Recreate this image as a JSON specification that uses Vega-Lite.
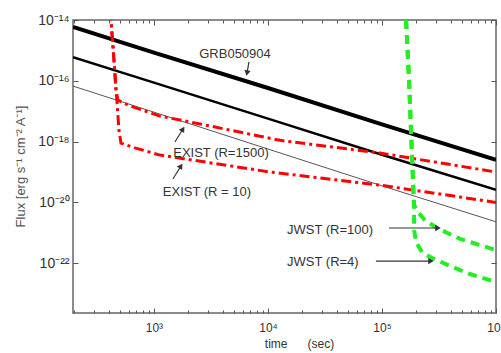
{
  "$schema": "https://vega.github.io/schema/vega-lite/v6.json",
  "width": 423,
  "height": 293,
  "autosize": {"type": "none"},
  "padding": {"left": 73, "top": 20, "right": 5, "bottom": 40},
  "background": "white",
  "config": {
    "view": {"stroke": "#666", "strokeWidth": 1.5},
    "font": "Liberation Sans",
    "axis": {"domain": false, "grid": false, "tickColor": "#555", "tickWidth": 1, "labelColor": "#333", "titleColor": "#333", "titleFontWeight": "normal", "labelFont": "Liberation Sans", "titleFont": "Liberation Sans"}
  },
  "datasets": {
    "curves": [
      {"s": "thick", "i": 1, "t": 195, "f": 5.9e-15},
      {"s": "thick", "i": 2, "t": 1000, "f": 8.5e-16},
      {"s": "thick", "i": 3, "t": 10000, "f": 5.8e-17},
      {"s": "thick", "i": 4, "t": 100000, "f": 3.7e-18},
      {"s": "thick", "i": 5, "t": 1000000, "f": 2.5e-19},
      {"s": "mid", "i": 1, "t": 195, "f": 6.0e-16},
      {"s": "mid", "i": 2, "t": 1000, "f": 8.7e-17},
      {"s": "mid", "i": 3, "t": 10000, "f": 5.7e-18},
      {"s": "mid", "i": 4, "t": 100000, "f": 3.7e-19},
      {"s": "mid", "i": 5, "t": 1000000, "f": 2.6e-20},
      {"s": "thin", "i": 1, "t": 195, "f": 6.7e-17},
      {"s": "thin", "i": 2, "t": 1000, "f": 9.3e-18},
      {"s": "thin", "i": 3, "t": 10000, "f": 5.7e-19},
      {"s": "thin", "i": 4, "t": 100000, "f": 3.5e-20},
      {"s": "thin", "i": 5, "t": 1000000, "f": 2.3e-21},
      {"s": "exist1500", "i": 1, "t": 395, "f": 1e-13},
      {"s": "exist1500", "i": 2, "t": 420, "f": 1e-14},
      {"s": "exist1500", "i": 3, "t": 446, "f": 4.8e-16},
      {"s": "exist1500", "i": 4, "t": 464, "f": 5.0e-17},
      {"s": "exist1500", "i": 5, "t": 483, "f": 2.3e-17},
      {"s": "exist1500", "i": 6, "t": 615, "f": 1.5e-17},
      {"s": "exist1500", "i": 7, "t": 1129, "f": 6.9e-18},
      {"s": "exist1500", "i": 8, "t": 2535, "f": 3.8e-18},
      {"s": "exist1500", "i": 9, "t": 12730, "f": 1.1e-18},
      {"s": "exist1500", "i": 10, "t": 95900, "f": 4.2e-19},
      {"s": "exist1500", "i": 11, "t": 1000000, "f": 1.0e-19},
      {"s": "exist10", "i": 1, "t": 395, "f": 1e-13},
      {"s": "exist10", "i": 2, "t": 420, "f": 1e-14},
      {"s": "exist10", "i": 3, "t": 446, "f": 4.8e-16},
      {"s": "exist10", "i": 4, "t": 473, "f": 2.3e-17},
      {"s": "exist10", "i": 5, "t": 493, "f": 2.4e-18},
      {"s": "exist10", "i": 6, "t": 514, "f": 8.9e-19},
      {"s": "exist10", "i": 7, "t": 681, "f": 6.2e-19},
      {"s": "exist10", "i": 8, "t": 1129, "f": 3.6e-19},
      {"s": "exist10", "i": 9, "t": 10420, "f": 1.0e-19},
      {"s": "exist10", "i": 10, "t": 95900, "f": 3.7e-20},
      {"s": "exist10", "i": 11, "t": 1000000, "f": 1.0e-20},
      {"s": "jwst100", "i": 1, "t": 162600, "f": 1e-14},
      {"s": "jwst100", "i": 2, "t": 172700, "f": 1.07e-16},
      {"s": "jwst100", "i": 3, "t": 179600, "f": 2.4e-18},
      {"s": "jwst100", "i": 4, "t": 187000, "f": 5.5e-20},
      {"s": "jwst100", "i": 5, "t": 191000, "f": 8.2e-21},
      {"s": "jwst100", "i": 6, "t": 207000, "f": 4.8e-21},
      {"s": "jwst100", "i": 7, "t": 238300, "f": 2.6e-21},
      {"s": "jwst100", "i": 8, "t": 303700, "f": 1.44e-21},
      {"s": "jwst100", "i": 9, "t": 483000, "f": 6.3e-22},
      {"s": "jwst100", "i": 10, "t": 1000000, "f": 2.7e-22},
      {"s": "jwst4", "i": 1, "t": 162600, "f": 1e-14},
      {"s": "jwst4", "i": 2, "t": 172700, "f": 1.07e-16},
      {"s": "jwst4", "i": 3, "t": 179600, "f": 2.4e-18},
      {"s": "jwst4", "i": 4, "t": 187000, "f": 5.5e-20},
      {"s": "jwst4", "i": 5, "t": 191000, "f": 8.2e-21},
      {"s": "jwst4", "i": 6, "t": 191500, "f": 1.23e-21},
      {"s": "jwst4", "i": 7, "t": 198800, "f": 5.0e-22},
      {"s": "jwst4", "i": 8, "t": 224400, "f": 2.3e-22},
      {"s": "jwst4", "i": 9, "t": 274600, "f": 1.48e-22},
      {"s": "jwst4", "i": 10, "t": 394500, "f": 8.1e-23},
      {"s": "jwst4", "i": 11, "t": 591000, "f": 4.4e-23},
      {"s": "jwst4", "i": 12, "t": 1000000, "f": 2.4e-23}
    ],
    "notes": [
      {"t": 5140, "f": 7.6e-16, "text": "GRB050904"},
      {"t": 3870, "f": 4.2e-19, "text": "EXIST (R=1500)"},
      {"t": 2917, "f": 2.2e-20, "text": "EXIST (R = 10)"},
      {"t": 35000, "f": 1.24e-21, "text": "JWST (R=100)"},
      {"t": 30300, "f": 1.1e-22, "text": "JWST (R=4)"}
    ],
    "arrows": [
      {"name": "grb", "t": 6810, "f": 4.2e-16, "t2": 6550, "f2": 1.8e-16},
      {"name": "e1500", "t": 1528, "f": 9.7e-19, "t2": 1795, "f2": 2.6e-18},
      {"name": "e10", "t": 1468, "f": 5.9e-20, "t2": 1725, "f2": 1.58e-19},
      {"name": "j100", "t": 115000, "f": 1.44e-21, "t2": 310000, "f2": 1.44e-21},
      {"name": "j4", "t": 88500, "f": 1.17e-22, "t2": 269000, "f2": 1.17e-22}
    ]
  },
  "resolve": {"axis": {"x": "independent", "y": "independent"}},
  "encoding": {
    "x": {"field": "t", "type": "quantitative", "scale": {"type": "log", "domain": [195, 1000000], "nice": false}, "axis": null},
    "y": {"field": "f", "type": "quantitative", "scale": {"type": "log", "domain": [2.3e-24, 1e-14], "nice": false}, "axis": null}
  },
  "layer": [
    {
      "data": {"name": "curves"},
      "transform": [{"filter": "datum.s == 'thick'"}],
      "mark": {"type": "line", "color": "black", "strokeWidth": 4, "clip": true},
      "encoding": {
        "order": {"field": "i", "type": "quantitative"},
        "x": {"field": "t", "type": "quantitative", "scale": {"type": "log", "domain": [195, 1000000], "nice": false},
          "axis": {"orient": "bottom",
            "values": [200,300,400,500,600,700,800,900,1000,2000,3000,4000,5000,6000,7000,8000,9000,10000,20000,30000,40000,50000,60000,70000,80000,90000,100000,200000,300000,400000,500000,600000,700000,800000,900000,1000000],
            "labelExpr": "datum.value == 1000 ? '10³' : datum.value == 10000 ? '10⁴' : datum.value == 100000 ? '10⁵' : datum.value == 1000000 ? '10⁶' : ''",
            "tickSize": {"condition": {"test": "datum.value == 1000 || datum.value == 10000 || datum.value == 100000 || datum.value == 1000000", "value": -5}, "value": -3},
            "labelPadding": 14, "labelFontSize": 12, "labelFlush": false, "labelOverlap": false, "labelBound": false,
            "title": "time\u00a0\u00a0\u00a0\u00a0\u00a0\u00a0(sec)", "titleFontSize": 12, "titleX": 226, "titleY": 30, "titleAlign": "center", "titleBaseline": "middle"}},
        "y": {"field": "f", "type": "quantitative", "scale": {"type": "log", "domain": [2.3e-24, 1e-14], "nice": false},
          "axis": {"orient": "left",
            "values": [1e-14, 1e-16, 1e-18, 1e-20, 1e-22],
            "labelExpr": "'10' + (datum.value > 5e-15 ? '⁻¹⁴' : datum.value > 5e-17 ? '⁻¹⁶' : datum.value > 5e-19 ? '⁻¹⁸' : datum.value > 5e-21 ? '⁻²⁰' : '⁻²²')",
            "tickSize": -5, "labelPadding": 9, "labelFontSize": 14, "labelFlush": false, "labelOverlap": false, "labelBound": false,
            "title": "Flux  [erg s⁻¹ cm⁻² A⁻¹]", "titleFontSize": 13, "titleColor": "#555", "titleX": -53, "titleY": 146, "titleAngle": -90, "titleAlign": "center", "titleBaseline": "middle"}}
      }
    },
    {
      "data": {"name": "curves"},
      "transform": [{"filter": "datum.s == 'mid'"}],
      "mark": {"type": "line", "color": "black", "strokeWidth": 2.5, "clip": true},
      "encoding": {
        "order": {"field": "i", "type": "quantitative"},
        "x": {"field": "t", "type": "quantitative", "scale": {"type": "log", "domain": [195, 1000000], "nice": false},
          "axis": {"orient": "top",
            "values": [200,300,400,500,600,700,800,900,1000,2000,3000,4000,5000,6000,7000,8000,9000,10000,20000,30000,40000,50000,60000,70000,80000,90000,100000,200000,300000,400000,500000,600000,700000,800000,900000,1000000],
            "labels": false, "title": null,
            "tickSize": {"condition": {"test": "datum.value == 1000 || datum.value == 10000 || datum.value == 100000 || datum.value == 1000000", "value": -5}, "value": -3}}},
        "y": {"field": "f", "type": "quantitative", "scale": {"type": "log", "domain": [2.3e-24, 1e-14], "nice": false},
          "axis": {"orient": "right", "values": [1e-14, 1e-16, 1e-18, 1e-20, 1e-22], "labels": false, "title": null, "tickSize": -5}}
      }
    },
    {
      "data": {"name": "curves"},
      "transform": [{"filter": "datum.s == 'thin'"}],
      "mark": {"type": "line", "color": "#555", "strokeWidth": 1, "clip": true},
      "encoding": {"order": {"field": "i", "type": "quantitative"}}
    },
    {
      "data": {"name": "curves"},
      "transform": [{"filter": "datum.s == 'exist1500' || datum.s == 'exist10'"}],
      "mark": {"type": "line", "color": "#ff0000", "strokeWidth": 3, "strokeDash": [10, 4, 3, 4], "clip": true},
      "encoding": {"order": {"field": "i", "type": "quantitative"}, "detail": {"field": "s"}}
    },
    {
      "data": {"name": "curves"},
      "transform": [{"filter": "datum.s == 'jwst100' || datum.s == 'jwst4'"}],
      "mark": {"type": "line", "color": "#22ee22", "strokeWidth": 4, "strokeDash": [9, 6], "clip": true},
      "encoding": {"order": {"field": "i", "type": "quantitative"}, "detail": {"field": "s"}}
    },
    {
      "data": {"name": "notes"},
      "mark": {"type": "text", "fontSize": 13, "color": "#333", "font": "Liberation Sans", "align": "center", "baseline": "middle"},
      "encoding": {"text": {"field": "text"}}
    },
    {
      "data": {"name": "arrows"},
      "mark": {"type": "rule", "color": "#333", "strokeWidth": 1.2},
      "encoding": {"x2": {"field": "t2"}, "y2": {"field": "f2"}}
    },
    {
      "data": {"name": "arrows"},
      "transform": [{"filter": "datum.name == 'grb'"}],
      "mark": {"type": "point", "shape": "triangle-up", "filled": true, "color": "#333", "size": 40, "opacity": 1},
      "encoding": {
        "angle": {"value": 190},
        "x": {"field": "t2", "type": "quantitative", "scale": {"type": "log", "domain": [195, 1000000], "nice": false}, "axis": null},
        "y": {"field": "f2", "type": "quantitative", "scale": {"type": "log", "domain": [2.3e-24, 1e-14], "nice": false}, "axis": null}
      }
    },
    {
      "data": {"name": "arrows"},
      "transform": [{"filter": "datum.name == 'e1500' || datum.name == 'e10'"}],
      "mark": {"type": "point", "shape": "triangle-up", "filled": true, "color": "#333", "size": 40, "opacity": 1},
      "encoding": {
        "angle": {"value": 32},
        "x": {"field": "t2", "type": "quantitative", "scale": {"type": "log", "domain": [195, 1000000], "nice": false}, "axis": null},
        "y": {"field": "f2", "type": "quantitative", "scale": {"type": "log", "domain": [2.3e-24, 1e-14], "nice": false}, "axis": null}
      }
    },
    {
      "data": {"name": "arrows"},
      "transform": [{"filter": "datum.name == 'j100' || datum.name == 'j4'"}],
      "mark": {"type": "point", "shape": "triangle-up", "filled": true, "color": "#333", "size": 40, "opacity": 1},
      "encoding": {
        "angle": {"value": 90},
        "x": {"field": "t2", "type": "quantitative", "scale": {"type": "log", "domain": [195, 1000000], "nice": false}, "axis": null},
        "y": {"field": "f2", "type": "quantitative", "scale": {"type": "log", "domain": [2.3e-24, 1e-14], "nice": false}, "axis": null}
      }
    }
  ]
}
